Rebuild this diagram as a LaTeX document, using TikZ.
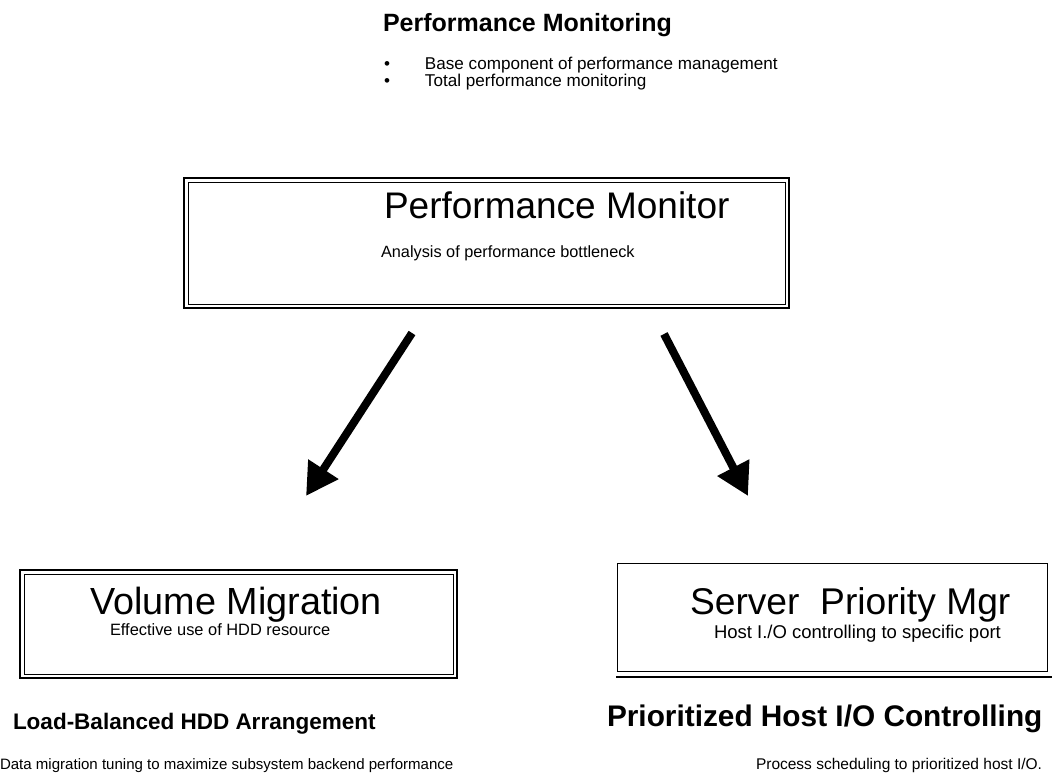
\documentclass[tikz,border=0pt]{standalone}
\usepackage{fontspec}
\setmainfont{Liberation Sans}
\usetikzlibrary{arrows.meta}
\begin{document}
\begin{tikzpicture}[x=1pt,y=-1pt,
  outerline/.style={draw=black,line width=1.6pt},
  innerline/.style={draw=black,line width=0.9pt},
  txt/.style={inner sep=0pt,outer sep=0pt,anchor=base west},
  big/.style={txt,font=\fontsize{37}{40}\selectfont},
  small/.style={txt,font=\fontsize{15.5}{18}\selectfont},
  head/.style={txt,font=\bfseries\fontsize{25}{28}\selectfont},
  fatarrow/.style={line width=8pt,-{Triangle[length=32pt,width=34pt]}}]
\useasboundingbox (0,0) rectangle (1052,777);
% header
\node[head] (hdr) at (383,31) {Performance Monitoring};
\node[small,font=\fontsize{17.1}{18}\selectfont] (l1) at (384,69) {\makebox[41pt][l]{\textbullet}Base component of performance management};
\node[small,font=\fontsize{17.1}{18}\selectfont] (l2) at (384,86) {\makebox[41pt][l]{\textbullet}Total performance monitoring};
% top box
\draw[outerline] (184,178) rectangle (789,308);
\draw[innerline] (188,182) rectangle (785,304);
\node[big] (pm) at (384,218) {Performance Monitor};
\node[small,font=\fontsize{16.3}{18}\selectfont] (pmd) at (381,257) {Analysis of performance bottleneck};
% left box
\draw[outerline] (20,570) rectangle (457,678);
\draw[innerline] (24,574) rectangle (453,674);
\node[big,font=\fontsize{37.8}{40}\selectfont] (vm) at (90,614) {Volume Migration};
\node[small,font=\fontsize{16.4}{18}\selectfont] (vmd) at (110,635) {Effective use of HDD resource};
% right box
\draw[innerline] (617,563) rectangle (1047,671);
\draw[outerline] (616,677) -- (1052,677);
\node[big,font=\fontsize{37.2}{40}\selectfont] (sp) at (690,614) {Server\ \ Priority Mgr};
\node[small,font=\fontsize{18.5}{20}\selectfont] (spd) at (714,638) {Host I./O controlling to specific port};
% captions
\node[head,font=\bfseries\fontsize{22.5}{26}\selectfont] (lb) at (13,729) {Load-Balanced HDD Arrangement};
\node[small,font=\fontsize{15.05}{18}\selectfont] (lbd) at (0,769) {Data migration tuning to maximize subsystem backend performance};
\node[head,font=\bfseries\fontsize{29.8}{32}\selectfont] (ph) at (607,726) {Prioritized Host I/O Controlling};
\node[small] (phd) at (756,769) {Process scheduling to prioritized host I/O.};
% arrows
\coordinate (a1s) at (412,333);
\coordinate (a1e) at (306,496);
\coordinate (a2s) at (664,334);
\coordinate (a2e) at (748,496);
\draw[fatarrow] (a1s) -- (a1e);
\draw[fatarrow] (a2s) -- (a2e);
\end{tikzpicture}
\end{document}
